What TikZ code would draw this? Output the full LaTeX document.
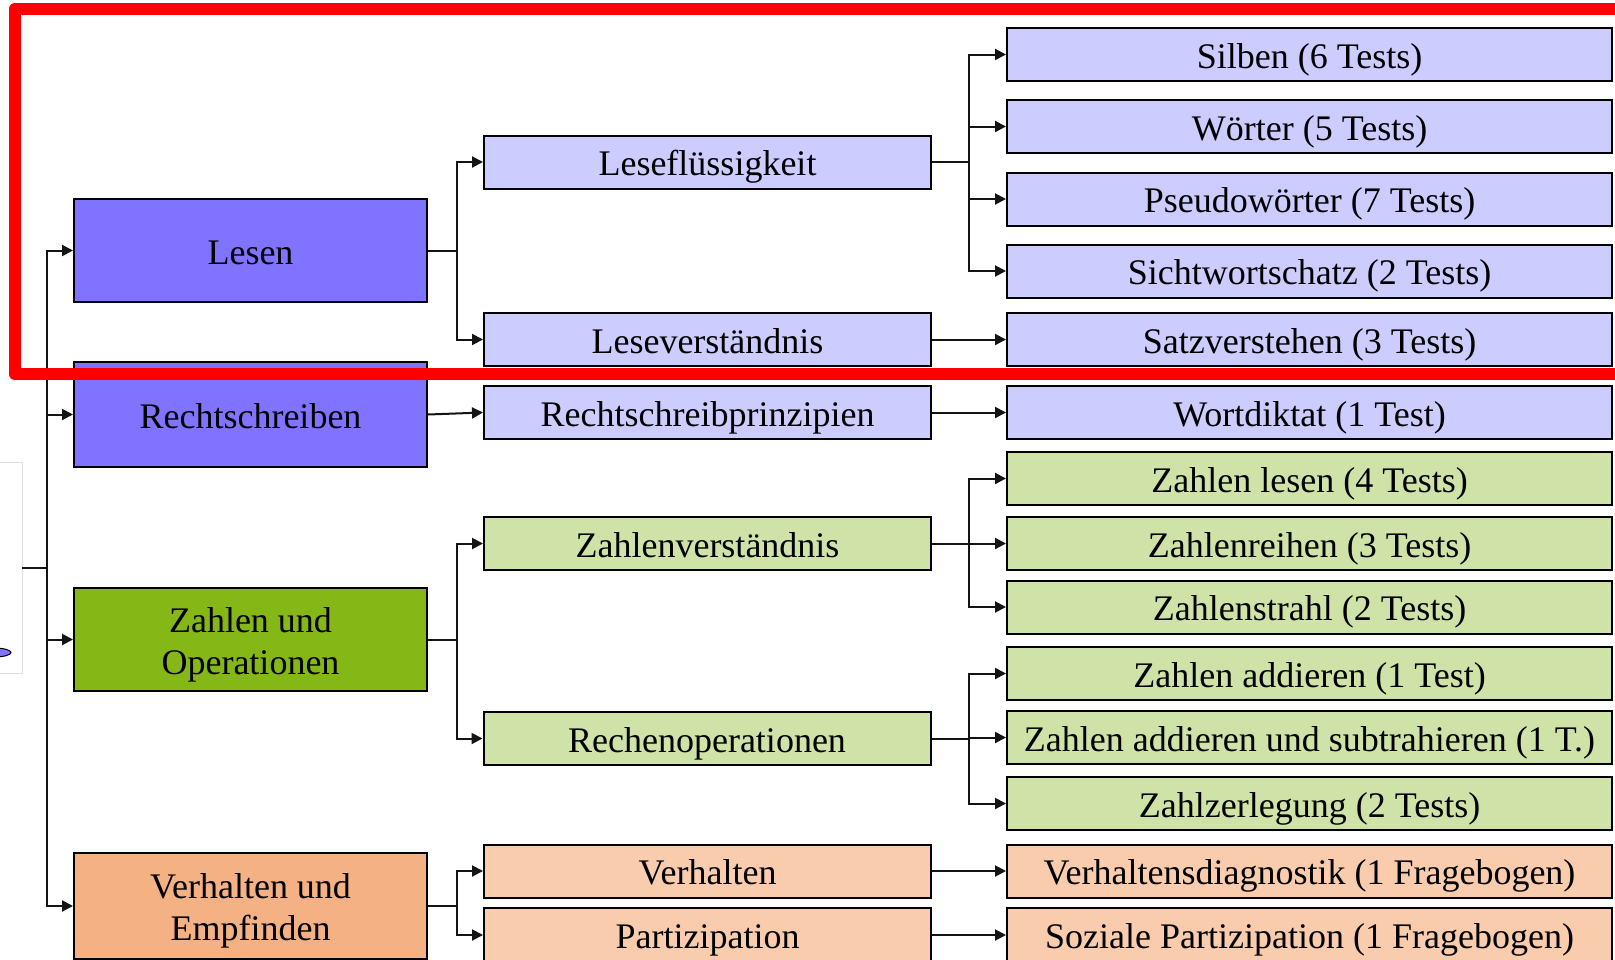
\documentclass[tikz,border=0pt]{standalone}
\usepackage{fontspec}
\setmainfont{Liberation Serif}
\usetikzlibrary{arrows.meta}
\definecolor{cDarkBlue}{RGB}{128,115,255}
\definecolor{cLightBlue}{RGB}{204,204,255}
\definecolor{cDarkGreen}{RGB}{133,184,23}
\definecolor{cLightGreen}{RGB}{207,227,168}
\definecolor{cDarkOrange}{RGB}{244,177,131}
\definecolor{cLightOrange}{RGB}{248,204,173}
\definecolor{cLine}{RGB}{20,20,20}
\tikzset{
  box/.style={draw=black, line width=2pt, inner sep=0pt, align=center,
    font=\fontsize{36}{42}\selectfont, text=black},
  one/.style={text height=33pt, text depth=6pt},
  lone/.style={box, minimum width=353pt},
  ltwo/.style={box, one, minimum width=447pt, minimum height=53pt},
  lthree/.style={box, one, minimum width=605pt, minimum height=53pt},
  conn/.style={line width=2pt, draw=cLine},
  arr/.style={conn, -{Triangle[length=11pt,width=11pt]}},
}
\begin{document}
\begin{tikzpicture}[x=1pt,y=-1pt]
\clip (0,0) rectangle (1615,959);
\fill[white] (0,0) rectangle (1615,959);

% partial element at left edge
\draw[gray!25, line width=1pt] (-5,462) rectangle (22,673);
\draw[fill=cDarkBlue, draw=black, line width=1pt] (-6,652.5) ellipse [x radius=17, y radius=4.5];
\coordinate (lo) at (22,567.5);

% level 1
\node[lone, one, fill=cDarkBlue, minimum height=103pt] (lesen) at (250.5,250.5) {Lesen};
\node[lone, one, fill=cDarkBlue, minimum height=105pt] (recht) at (250.5,414.5) {Rechtschreiben};
\node[lone, fill=cDarkGreen, minimum height=103pt] (zahl) at (250.5,639.5) {\rule{0pt}{35pt}Zahlen und\\Operationen};
\node[lone, fill=cDarkOrange, minimum height=106pt] (verh) at (250.5,906) {\rule{0pt}{34pt}Verhalten und\\Empfinden};

% level 2
\node[ltwo, fill=cLightBlue] (lf) at (707.5,162) {Leseflüssigkeit};
\node[ltwo, fill=cLightBlue] (lv) at (707.5,339.5) {Leseverständnis};
\node[ltwo, fill=cLightBlue] (rp) at (707.5,412.5) {Rechtschreibprinzipien};
\node[ltwo, fill=cLightGreen] (zv) at (707.5,543.5) {Zahlenverständnis};
\node[ltwo, fill=cLightGreen] (ro) at (707,738.5) {Rechenoperationen};
\node[ltwo, fill=cLightOrange] (vh) at (707.5,871) {Verhalten};
\node[ltwo, fill=cLightOrange, minimum height=54pt] (pz) at (707.5,935) {Partizipation};

% level 3
\node[lthree, fill=cLightBlue] (silben) at (1309.5,54.5) {Silben (6 Tests)};
\node[lthree, fill=cLightBlue] (woerter) at (1309.5,126.5) {Wörter (5 Tests)};
\node[lthree, fill=cLightBlue] (pseudo) at (1309.5,199) {Pseudowörter (7 Tests)};
\node[lthree, fill=cLightBlue] (sicht) at (1309.5,271) {Sichtwortschatz (2 Tests)};
\node[lthree, fill=cLightBlue] (satz) at (1309.5,339.5) {Satzverstehen (3 Tests)};
\node[lthree, fill=cLightBlue] (wort) at (1309.5,412.5) {Wortdiktat (1 Test)};
\node[lthree, fill=cLightGreen] (zlesen) at (1309.5,478.5) {Zahlen lesen (4 Tests)};
\node[lthree, fill=cLightGreen] (zreihen) at (1309.5,543.5) {Zahlenreihen (3 Tests)};
\node[lthree, fill=cLightGreen] (zstrahl) at (1309.5,607) {Zahlenstrahl (2 Tests)};
\node[lthree, fill=cLightGreen] (zadd) at (1309.5,673.5) {Zahlen addieren (1 Test)};
\node[lthree, fill=cLightGreen] (zaddsub) at (1309.5,737.5) {Zahlen addieren und subtrahieren (1 T.)};
\node[lthree, fill=cLightGreen] (zzerl) at (1309.5,803.5) {Zahlzerlegung (2 Tests)};
\node[lthree, fill=cLightOrange] (vdiag) at (1309.5,871) {Verhaltensdiagnostik (1 Fragebogen)};
\node[lthree, fill=cLightOrange, minimum height=54pt] (sozp) at (1309.5,935) {Soziale Partizipation (1 Fragebogen)};

% trunk
\coordinate (t) at (47,567.5);
\draw[conn] (lo) -- (t);
\draw[conn] (t |- lesen.west) -- (t |- verh.west);
\draw[arr] (t) |- (lesen.west);
\draw[arr] (t) |- (recht.west);
\draw[arr] (t) |- (zahl.west);
\draw[arr] (t) |- (verh.west);

% level 1 -> level 2
\draw[conn] (lesen.east) -- ++(29,0) coordinate (b1);
\draw[arr] (b1) |- (lf.west);
\draw[arr] (b1) |- (lv.west);
\draw[arr] (recht.east) -- (rp.west);
\draw[conn] (zahl.east) -- ++(29,0) coordinate (b3);
\draw[arr] (b3) |- (zv.west);
\draw[arr] (b3) |- (ro.west);
\draw[conn] (verh.east) -- ++(29,0) coordinate (b4);
\draw[arr] (b4) |- (vh.west);
\draw[arr] (b4) |- (pz.west);

% level 2 -> level 3
\draw[conn] (lf.east) -- ++(37,0) coordinate (c1);
\draw[arr] (c1) |- (silben.west);
\draw[arr] (c1) |- (woerter.west);
\draw[arr] (c1) |- (pseudo.west);
\draw[arr] (c1) |- (sicht.west);
\draw[arr] (lv.east) -- (satz.west);
\draw[arr] (rp.east) -- (wort.west);
\draw[conn] (zv.east) -- ++(37,0) coordinate (c3);
\draw[arr] (c3) |- (zlesen.west);
\draw[arr] (c3) |- (zreihen.west);
\draw[arr] (c3) |- (zstrahl.west);
\draw[conn] (ro.east) -- ++(37.5,0) coordinate (c4);
\draw[arr] (c4) |- (zadd.west);
\draw[arr] (c4) |- (zaddsub.west);
\draw[arr] (c4) |- (zzerl.west);
\draw[arr] (vh.east) -- (vdiag.west);
\draw[arr] (pz.east) -- (sozp.west);

% red highlight frame
\draw[red, line width=12.5pt, line join=round] (15,9) rectangle (1660,374);
\end{tikzpicture}
\end{document}
